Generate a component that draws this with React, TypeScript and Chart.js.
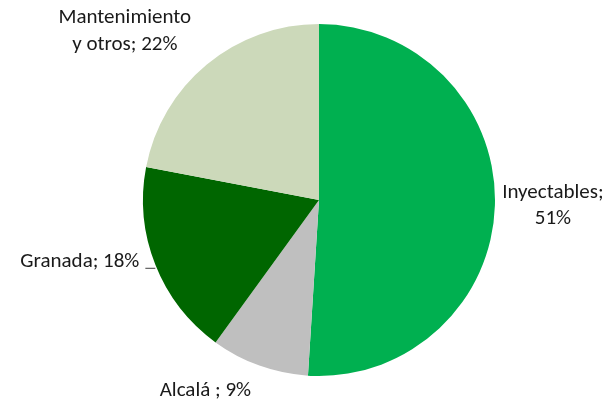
import React, { useEffect, useRef } from "react";
import { Chart, registerables } from "chart.js";

Chart.register(...registerables);

const categories = ["Inyectables", "Alcalá", "Granada", "Mantenimiento y otros"];
const values = [51, 9, 18, 22];
const labelLines = [["Inyectables;", "51%"], ["Alcalá ; 9%"], ["Granada; 18%"], ["Mantenimiento", "y otros; 22%"]];
const colors = ["#00B050", "#BFBFBF", "#006600", "#CCD9BA"];

// label placement relative to arc edge at mid-angle: [dx, dy, align]
const labelOffsets: [number, number, CanvasTextAlign][] = [
  [58, 0, "center"],
  [-54, 25, "center"],
  [-16, -3, "right"],
  [-82, -33, "center"],
];

const labelPlugin = {
  id: "pieLabels",
  afterDatasetsDraw(chart: any) {
    const ctx = chart.ctx;
    const meta = chart.getDatasetMeta(0);
    ctx.save();
    ctx.font = '21px Carlito, Lato, "Open Sans", sans-serif';
    ctx.fillStyle = "#1a1a1a";
    ctx.textBaseline = "middle";
    const lh = 26.5;
    meta.data.forEach((arc: any, i: number) => {
      const mid = (arc.startAngle + arc.endAngle) / 2;
      const ax = arc.x + Math.cos(mid) * arc.outerRadius;
      const ay = arc.y + Math.sin(mid) * arc.outerRadius;
      const [dx, dy, align] = labelOffsets[i];
      const lines = labelLines[i];
      const cx = ax + dx;
      const cy = ay + dy;
      ctx.textAlign = align;
      lines.forEach((t, k) => {
        ctx.fillText(t, cx, cy + (k - (lines.length - 1) / 2) * lh);
      });
      if (i === 2) {
        ctx.strokeStyle = "#404040";
        ctx.lineWidth = 1;
        ctx.beginPath();
        ctx.moveTo(cx + 6, ay + 3.5);
        ctx.lineTo(ax, ay + 3.5);
        ctx.stroke();
      }
    });
    ctx.restore();
  },
};

export default function App() {
  const ref = useRef<HTMLCanvasElement>(null);
  useEffect(() => {
    document.body.style.margin = "0";
    const chart = new Chart(ref.current!, {
      type: "pie",
      data: {
        labels: categories,
        datasets: [
          {
            data: values,
            backgroundColor: colors,
            borderWidth: 0,
          },
        ],
      },
      options: {
        responsive: false,
        animation: false,
        layout: { padding: { top: 24, bottom: 25, left: 143, right: 120 } },
        plugins: {
          legend: { display: false },
          tooltip: { enabled: false },
        },
      },
      plugins: [labelPlugin],
    });
    return () => chart.destroy();
  }, []);
  return (
    <div style={{ position: "fixed", left: 0, top: 0, width: 615, height: 401, background: "#fff" }}>
      <canvas ref={ref} width={615} height={401} />
    </div>
  );
}
